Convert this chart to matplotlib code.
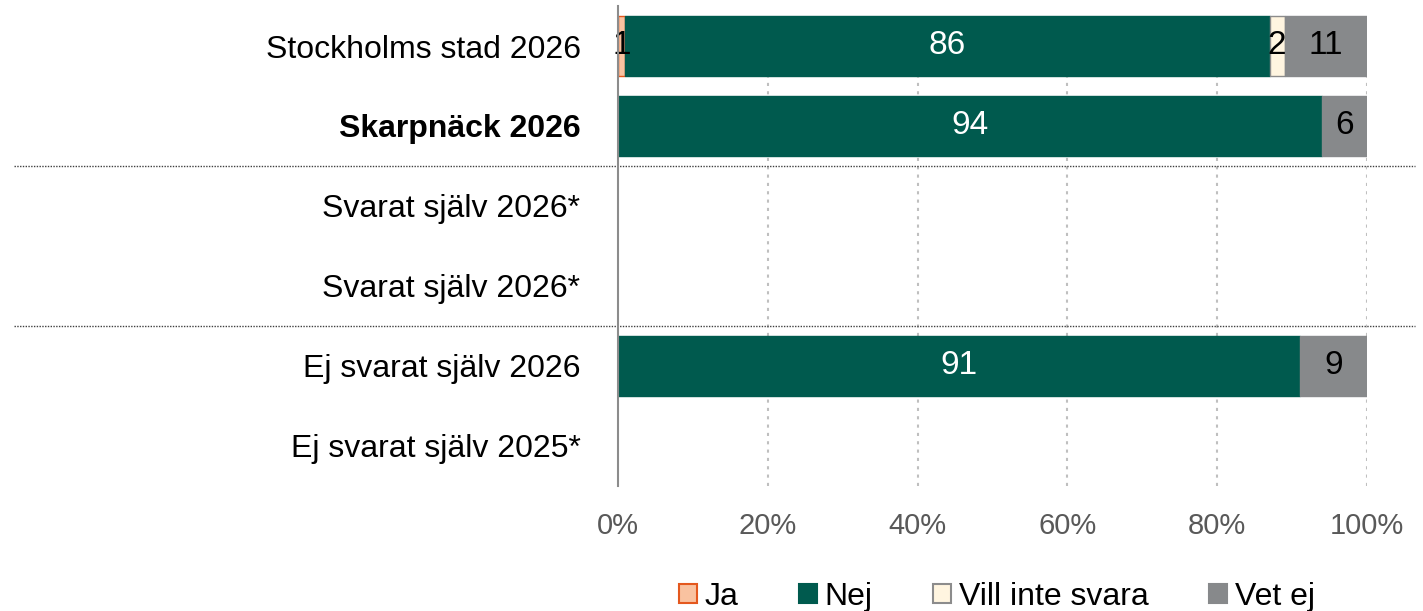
import matplotlib
matplotlib.use("Agg")
import matplotlib.pyplot as plt
from matplotlib.patches import Patch
import numpy as np

plt.rcParams['font.family'] = ['Liberation Sans', 'DejaVu Sans']

categories = ['Stockholms stad 2026', 'Skarpnäck 2026', 'Svarat själv 2026*',
              'Svarat själv 2026*', 'Ej svarat själv 2026', 'Ej svarat själv 2025*']
ja = [1, 0, 0, 0, 0, 0]
nej = [86, 94, 0, 0, 91, 0]
vill_inte = [2, 0, 0, 0, 0, 0]
vet_ej = [11, 6, 0, 0, 9, 0]
series_names = ['Ja', 'Nej', 'Vill inte svara', 'Vet ej']
ticks = [0, 20, 40, 60, 80, 100]

fills = ['#F9C2A0', '#005A4E', '#FFF5E0', '#87898B']
edges = ['#E4581E', '#005A4E', '#8C8C8C', '#87898B']
text_colors = ['black', 'white', 'black', 'black']

fig = plt.figure(figsize=(14.23, 6.11), dpi=100)
ax = fig.add_axes([618 / 1423, 1 - 486 / 611, 749 / 1423, 480 / 611])

y = np.arange(len(categories))
left = np.zeros(len(categories))
for vals, name, fc, ec, tc in zip([ja, nej, vill_inte, vet_ej], series_names, fills, edges, text_colors):
    vals = np.array(vals, dtype=float)
    # no outline on empty segments, otherwise they leave a sliver at 0
    ecs = [ec if v > 0 else 'none' for v in vals]
    bars = ax.barh(y, vals, left=left, height=0.75, color=fc, edgecolor=ecs,
                   linewidth=1.0, label=name, zorder=3)
    for b, v in zip(bars, vals):
        if v > 0:
            ax.text(b.get_x() + b.get_width() / 2, b.get_y() + b.get_height() / 2,
                    f'{v:.0f}', ha='center', va='center', color=tc, fontsize=24, zorder=4)
    left += vals

ax.set_xlim(0, 100)
ax.set_ylim(len(categories) - 0.5, -0.5)
ax.set_yticks(y)
ax.set_yticklabels(categories, fontsize=23)
ax.get_yticklabels()[1].set_fontweight('bold')
ax.set_xticks(ticks)
ax.set_xticklabels([f'{t}%' for t in ticks], fontsize=21, color='#595959')
ax.tick_params(axis='both', length=0)
ax.tick_params(axis='y', pad=27)
ax.tick_params(axis='x', pad=19)

for s in ['top', 'right', 'bottom']:
    ax.spines[s].set_visible(False)
ax.spines['left'].set_color('#8C8C8C')
ax.spines['left'].set_linewidth(1.5)
ax.spines['left'].set_zorder(5)

for t in ticks[1:]:
    ax.axvline(t, ymin=0, ymax=(470 / 480), color='#BFBFBF', linestyle=(0, (1.5, 2.5)),
               linewidth=1.5, zorder=1)

# group separators, running across the label area too
for yy in [1.5, 3.5]:
    ax.axhline(yy, xmin=(14 - 618) / 749, xmax=(1415 - 618) / 749, color='#404040',
               linestyle=(0, (1, 1)), linewidth=1.0, clip_on=False, zorder=2)

handles = [Patch(facecolor=fc, edgecolor=ec, linewidth=1.5) for fc, ec in zip(fills, edges)]
fig.legend(handles, series_names, loc='center', bbox_to_anchor=(997 / 1423, 1 - 597 / 611),
           ncol=4, frameon=False, fontsize=23, handlelength=0.55, handleheight=0.55,
           handletextpad=0.25, columnspacing=1.9)

fig.savefig('out.png', dpi=100)
